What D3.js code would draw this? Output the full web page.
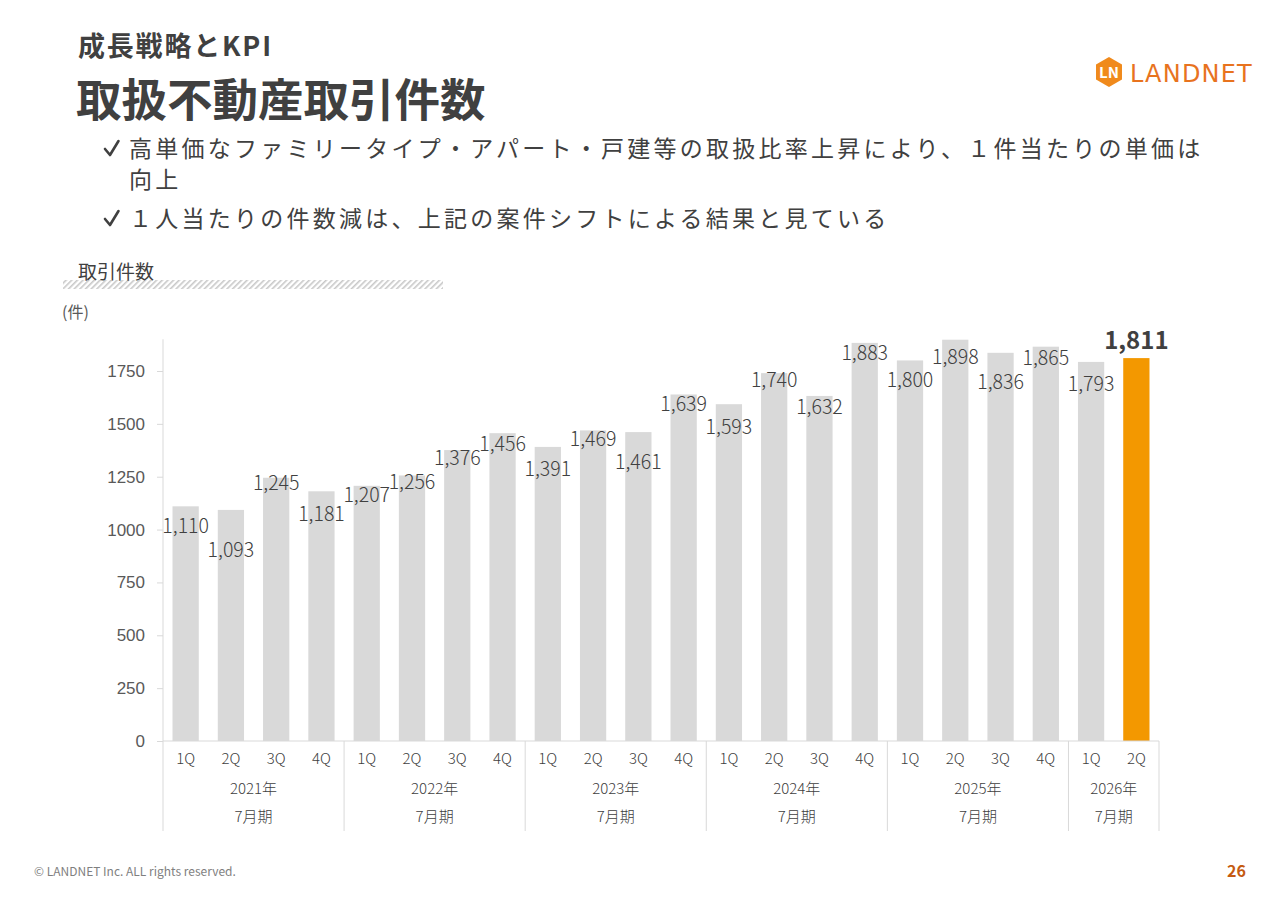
<!DOCTYPE html>
<html lang="ja">
<head>
  <meta charset="UTF-8" />
  <title>取扱不動産取引件数</title>
  <script src="https://d3js.org/d3.v7.min.js"></script>
  <style>
    html, body { margin: 0; padding: 0; background: #fff; }
    svg { display: block; font-family: "Noto Sans CJK JP", "Noto Sans", sans-serif; }
    .tick-label { font-size: 17px; fill: #595959; font-weight: 300; }
    .cat-label  { font-size: 15px; fill: #404040; font-weight: 300; }
    .val-label  { font-size: 19.5px; fill: #404040; font-weight: 300; }
  </style>
</head>
<body>
  <svg id="chart" width="1280" height="904"></svg>

  <script>
    // データ
    const fiscalYears = ["2021年", "2022年", "2023年", "2024年", "2025年", "2026年"];
    const quarters    = ["1Q", "2Q", "3Q", "4Q"];
    const deals = [
      1110, 1093, 1245, 1181,
      1207, 1256, 1376, 1456,
      1391, 1469, 1461, 1639,
      1593, 1740, 1632, 1883,
      1800, 1898, 1836, 1865,
      1793, 1811
    ];
    const yTicks = [0, 250, 500, 750, 1000, 1250, 1500, 1750];

    // ラベルの縦位置調整（棒の上端からのずれ、px）
    const labelNudge = [21, 42, 7, 24, 11, 8, 10, 13, 24, 10, 32, 11, 25, 9, 13, 12, 21, 19, 31, 13, 24, -16];

    const rows = deals.map((v, i) => ({
      key: fiscalYears[Math.floor(i / 4)] + quarters[i % 4],
      fy: fiscalYears[Math.floor(i / 4)],
      q: quarters[i % 4],
      value: v,
      i: i
    }));

    const svg = d3.select("#chart");
    const textCol = "#404040";
    const orange = "#F39800";

    // ---- ヘッダー ----
    svg.append("text").attr("x", 78).attr("y", 56)
       .attr("font-size", 27).attr("font-weight", "bold").attr("fill", textCol)
       .attr("letter-spacing", 1.8)
       .text("成長戦略とKPI");
    svg.append("text").attr("x", 76).attr("y", 117)
       .attr("font-size", 45.5).attr("font-weight", "bold").attr("fill", textCol)
       .text("取扱不動産取引件数");

    // ロゴ
    const logo = svg.append("g").attr("transform", "translate(1096,57)");
    const hex = d3.range(6).map(k => {
      const a = Math.PI / 3 * k + Math.PI / 6;
      return [15 * Math.cos(a), 15 * Math.sin(a)];
    });
    logo.append("polygon").attr("points", hex.map(p => p.join(",")).join(" "))
        .attr("transform", "translate(13,15)")
        .attr("fill", "#F08A1C");
    logo.append("text").attr("x", 13).attr("y", 21).attr("text-anchor", "middle")
        .attr("font-size", 15).attr("font-weight", "bold").attr("fill", "#fff")
        .text("LN");
    logo.append("text").attr("x", 34).attr("y", 25)
        .attr("font-size", 24).attr("fill", "#E8731E").attr("letter-spacing", 1.2)
        .attr("font-family", "'DejaVu Sans', sans-serif")
        .text("LANDNET");

    // 箇条書き
    const bullets = [
      { y: 157, check: true,  t: "高単価なファミリータイプ・アパート・戸建等の取扱比率上昇により、１件当たりの単価は" },
      { y: 188, check: false, t: "向上" },
      { y: 227, check: true,  t: "１人当たりの件数減は、上記の案件シフトによる結果と見ている" }
    ];
    bullets.forEach(b => {
      if (b.check) {
        svg.append("path")
           .attr("d", `M105,${b.y - 8} L110,${b.y - 2} L118.5,${b.y - 16}`)
           .attr("fill", "none").attr("stroke", textCol)
           .attr("stroke-width", 2.6).attr("stroke-linecap", "round").attr("stroke-linejoin", "round");
      }
      svg.append("text").attr("x", 129).attr("y", b.y)
         .attr("font-size", 23).attr("letter-spacing", 3.25).attr("fill", textCol)
         .text(b.t);
    });

    // 小見出し + 斜線
    const defs = svg.append("defs");
    const pat = defs.append("pattern").attr("id", "hatch")
      .attr("patternUnits", "userSpaceOnUse").attr("width", 4).attr("height", 4)
      .attr("patternTransform", "rotate(45)");
    pat.append("rect").attr("width", 1.6).attr("height", 4).attr("fill", "#c8c8c8");
    svg.append("rect").attr("x", 63).attr("y", 280).attr("width", 380).attr("height", 9)
       .attr("fill", "url(#hatch)");
    svg.append("text").attr("x", 78).attr("y", 279)
       .attr("font-size", 19).attr("fill", textCol).text("取引件数");
    svg.append("text").attr("x", 62).attr("y", 318)
       .attr("font-size", 16).attr("fill", "#595959").text("(件)");

    // ---- グラフ ----
    const x0 = 163, x1 = 1159, yBase = 741;
    const x = d3.scaleBand().domain(rows.map(d => d.key)).range([x0, x1]).paddingInner(0.42).paddingOuter(0.21);
    const y = d3.scaleLinear().domain([0, 1900]).range([yBase, yBase - 1900 * (370 / 1750)]);

    // Y軸
    const yAxis = svg.append("g").attr("transform", `translate(${x0},0)`)
      .call(d3.axisLeft(y).tickValues(yTicks).tickSize(6).tickPadding(12).tickFormat(d3.format("d")));
    yAxis.select(".domain").attr("stroke", "#d9d9d9").attr("d", `M-0,${y(1900)}V${yBase}`);
    yAxis.selectAll(".tick line").attr("stroke", "#d9d9d9");
    yAxis.selectAll(".tick text").attr("class", "tick-label").attr("fill", null);

    // 棒
    svg.selectAll(".bar").data(rows).enter().append("rect")
      .attr("class", "bar")
      .attr("x", d => x(d.key))
      .attr("y", d => y(d.value))
      .attr("width", x.bandwidth())
      .attr("height", d => yBase - y(d.value))
      .attr("fill", d => d.i === rows.length - 1 ? orange : "#D9D9D9");

    // X軸（多段）
    svg.append("line").attr("x1", x0).attr("x2", x1).attr("y1", yBase).attr("y2", yBase)
       .attr("stroke", "#d9d9d9");
    svg.selectAll(".q-label").data(rows).enter().append("text")
      .attr("class", "cat-label")
      .attr("x", d => x(d.key) + x.bandwidth() / 2)
      .attr("y", 764).attr("text-anchor", "middle")
      .text(d => d.q);

    const groups = fiscalYears.map(fy => {
      const g = rows.filter(r => r.fy === fy);
      const step = x.step();
      return {
        fy: fy,
        left: x(g[0].key) - step * 0.21,
        right: x(g[g.length - 1].key) + x.bandwidth() + step * 0.21
      };
    });
    const seps = [x0].concat(groups.map(g => Math.min(g.right, x1)));
    svg.selectAll(".sep").data(seps).enter().append("line")
      .attr("x1", d => d).attr("x2", d => d)
      .attr("y1", yBase).attr("y2", 831)
      .attr("stroke", "#d9d9d9");
    svg.selectAll(".fy-label").data(groups).enter().append("text")
      .attr("class", "cat-label")
      .attr("x", d => (d.left + d.right) / 2).attr("y", 794).attr("text-anchor", "middle")
      .text(d => d.fy);
    svg.selectAll(".fy-label2").data(groups).enter().append("text")
      .attr("class", "cat-label")
      .attr("x", d => (d.left + d.right) / 2).attr("y", 822).attr("text-anchor", "middle")
      .text("7月期");

    // データラベル
    svg.selectAll(".val").data(rows).enter().append("text")
      .attr("class", "val-label")
      .attr("x", d => x(d.key) + x.bandwidth() / 2)
      .attr("y", d => y(d.value) + labelNudge[d.i])
      .attr("dominant-baseline", "middle")
      .attr("text-anchor", "middle")
      .style("font-size", d => d.i === rows.length - 1 ? "24px" : null)
      .style("font-weight", d => d.i === rows.length - 1 ? "bold" : null)
      .text(d => d3.format(",")(d.value));

    // フッター
    svg.append("text").attr("x", 34).attr("y", 876)
       .attr("font-size", 12).attr("fill", "#7f7f7f")
       .text("© LANDNET Inc. ALL rights reserved.");
    svg.append("text").attr("x", 1246).attr("y", 877).attr("text-anchor", "end")
       .attr("font-size", 16).attr("font-weight", "bold").attr("fill", "#C55A11")
       .text("26");
  </script>
</body>
</html>
